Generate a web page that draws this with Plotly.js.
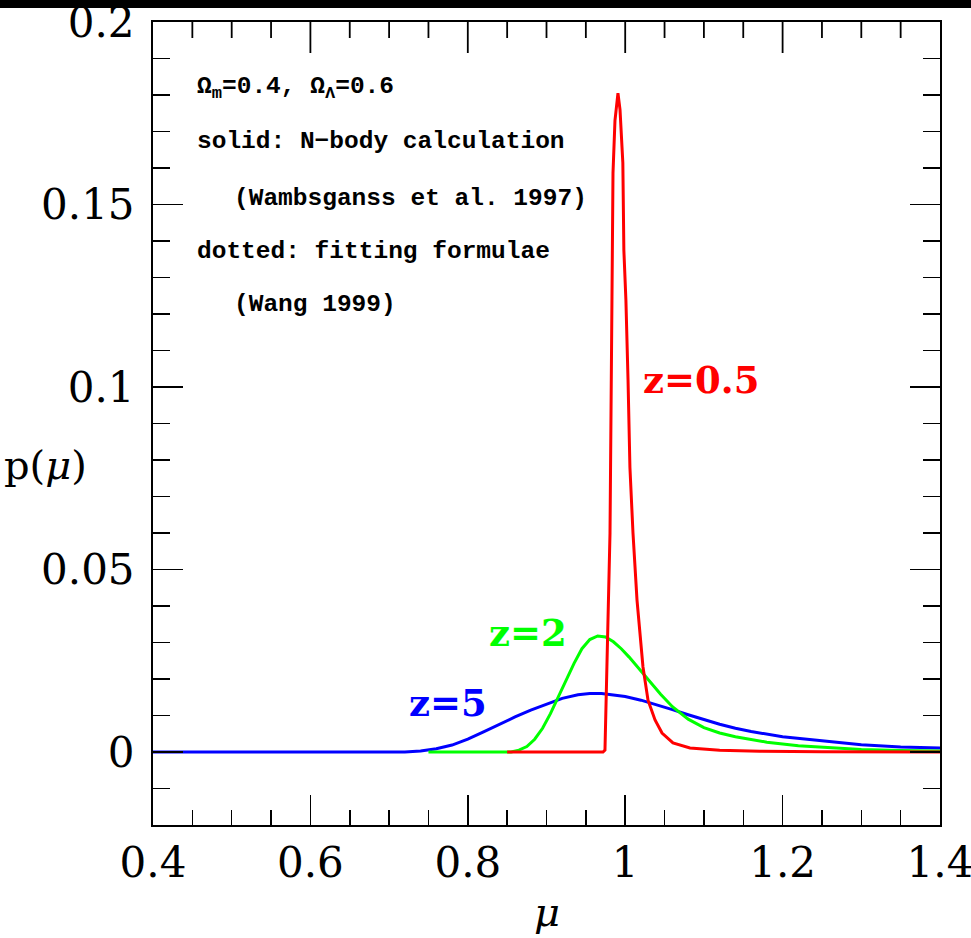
<!DOCTYPE html>
<html>
<head>
<meta charset="utf-8">
<script src="https://cdn.plot.ly/plotly-3.0.1.min.js"></script>
<style>
html,body{margin:0;padding:0;background:#fff;}
#chart{width:971px;height:938px;}
</style>
</head>
<body>
<div id="chart"></div>
<script>
// z = 0.5 (N-body, red)
const muRed = [0.85, 0.9718, 0.9743, 0.9781, 0.9807, 0.9832, 0.9845, 0.987, 0.9908, 0.9934, 0.997, 0.9983, 1.0009, 1.0036, 1.006, 1.0099, 1.015, 1.0226, 1.029, 1.0379, 1.0468, 1.0607, 1.0823, 1.12, 1.171, 1.25, 1.4];
const pRed  = [0, 0, 0.0005, 0.0326, 0.060, 0.1247, 0.1586, 0.173, 0.1805, 0.176, 0.1614, 0.1375, 0.1238, 0.102, 0.078, 0.060, 0.0416, 0.0233, 0.0142, 0.0088, 0.0052, 0.0025, 0.0011, 0.0005, 0.0002, 0.0001, 0];
// z = 2 (green)
const muGreen = [0.75, 0.855, 0.865, 0.875, 0.885, 0.895, 0.905, 0.915, 0.925, 0.935, 0.945, 0.955, 0.965, 0.975, 0.985, 0.995, 1.005, 1.015, 1.025, 1.035, 1.045, 1.06, 1.08, 1.10, 1.12, 1.14, 1.18, 1.22, 1.26, 1.30, 1.35, 1.40];
const pGreen  = [0, 0, 0.0005, 0.0015, 0.0035, 0.0065, 0.0105, 0.015, 0.0198, 0.0243, 0.0283, 0.0308, 0.0318, 0.0315, 0.0302, 0.0283, 0.026, 0.0234, 0.0208, 0.0182, 0.0158, 0.0124, 0.0090, 0.0067, 0.0052, 0.0042, 0.0027, 0.0017, 0.0011, 0.0007, 0.0004, 0.0003];
// z = 5 (blue)
const muBlue = [0.40, 0.72, 0.74, 0.76, 0.78, 0.80, 0.82, 0.84, 0.86, 0.88, 0.90, 0.92, 0.94, 0.955, 0.97, 0.985, 1.00, 1.02, 1.04, 1.06, 1.08, 1.10, 1.12, 1.14, 1.16, 1.20, 1.25, 1.30, 1.35, 1.40];
const pBlue  = [0, 0, 0.0003, 0.0009, 0.0019, 0.0035, 0.0055, 0.0076, 0.0096, 0.0115, 0.0132, 0.0147, 0.0157, 0.0160, 0.0160, 0.0157, 0.0152, 0.0142, 0.0130, 0.0116, 0.0102, 0.0088, 0.0076, 0.0065, 0.0056, 0.0042, 0.0030, 0.0020, 0.0014, 0.0011];

const xTicks = [0.4, 0.6, 0.8, 1, 1.2, 1.4];
const xTickText = ["0.4", "0.6", "0.8", "1", "1.2", "1.4"];
const xMinorTicks = [0.45, 0.5, 0.55, 0.65, 0.7, 0.75, 0.85, 0.9, 0.95, 1.05, 1.1, 1.15, 1.25, 1.3, 1.35];
const yTicks = [0, 0.05, 0.1, 0.15, 0.2];
const yTickText = ["0", "0.05", "0.1", "0.15", "0.2"];

const infoLines = ["Ω<sub>m</sub>=0.4, Ω<sub>Λ</sub>=0.6", "solid: N−body calculation", "(Wambsganss et al. 1997)", "dotted: fitting formulae", "(Wang 1999)"];

const yTop = 0.2, yBottom = -0.02;
const plotH = 938 - 22 - 113;
const perPx = (yTop - yBottom) / plotH;

// top-edge tick marks built from the tick arrays (mirror of the x axis)
const topX = [], topY = [];
xTicks.slice(1, -1).forEach(v => { topX.push(v, v, null); topY.push(yTop, yTop - 31 * perPx, null); });
xMinorTicks.forEach(v => { topX.push(v, v, null); topY.push(yTop, yTop - 16 * perPx, null); });

const lw = 3;
const traces = [
  {x: topX, y: topY, mode: 'lines', line: {color: '#000', width: 1.8}, connectgaps: false, hoverinfo: 'skip', cliponaxis: false},
  {x: muBlue, y: pBlue, mode: 'lines', line: {color: '#0000ff', width: lw}, name: 'z=5'},
  {x: muGreen, y: pGreen, mode: 'lines', line: {color: '#00ff00', width: lw}, name: 'z=2'},
  {x: muRed, y: pRed, mode: 'lines', line: {color: '#ff0000', width: lw}, name: 'z=0.5'}
];

const serif = 'DejaVu Serif';
const infoFont = {family: 'Liberation Mono', size: 24.5, color: '#000', weight: 'bold'};
const infoX = [0.0534, 0.0534, 0.1004, 0.0534, 0.1004];
const infoY = [0.918, 0.8506, 0.7808, 0.7136, 0.6476];
const annotations = infoLines.map((t, i) => ({
  text: '<b>' + t + '</b>', xref: 'paper', yref: 'paper', x: infoX[i], y: infoY[i],
  xanchor: 'left', yanchor: 'middle', showarrow: false, font: infoFont
}));
annotations.push(
  {text: '<b>z=0.5</b>', x: 1.0201, y: 0.1019, xanchor: 'left', yanchor: 'middle', showarrow: false, font: {family: serif, size: 37, color: '#ff0000'}},
  {text: '<b>z=2</b>', x: 0.8244, y: 0.0326, xanchor: 'left', yanchor: 'middle', showarrow: false, font: {family: serif, size: 37, color: '#00ff00'}},
  {text: '<b>z=5</b>', x: 0.7227, y: 0.0134, xanchor: 'left', yanchor: 'middle', showarrow: false, font: {family: serif, size: 37, color: '#0000ff'}},
  {text: 'p(<i>μ</i>)', xref: 'paper', yref: 'paper', x: -0.1925, y: 0.4477, xanchor: 'left', yanchor: 'middle', showarrow: false, font: {family: serif, size: 40, color: '#000'}},
  {text: '<i>μ</i>', xref: 'paper', yref: 'paper', x: 0.5, y: -0.108, xanchor: 'center', yanchor: 'middle', showarrow: false, font: {family: serif, size: 40, color: '#000'}}
);

const layout = {
  width: 971, height: 938,
  margin: {l: 153, r: 31, t: 22, b: 113, pad: 0},
  paper_bgcolor: '#fff', plot_bgcolor: '#fff',
  showlegend: false,
  xaxis: {
    range: [0.4, 1.4], tickvals: xTicks, ticktext: xTickText,
    ticks: 'inside', ticklen: 30, tickwidth: 1.5, tickcolor: '#000',
    minor: {tickvals: xMinorTicks, ticks: 'inside', ticklen: 15, tickwidth: 1.5, tickcolor: '#000'},
    showline: true, linecolor: '#000', linewidth: 2, mirror: true,
    showgrid: false, zeroline: false, ticklabeloverflow: 'allow',
    tickfont: {family: serif, size: 42, color: '#000'}, ticklabelstandoff: 0
  },
  yaxis: {
    range: [yBottom, yTop], tickvals: yTicks, ticktext: yTickText,
    ticks: 'inside', ticklen: 30, tickwidth: 1.5, tickcolor: '#000',
    minor: {dtick: 0.01, tick0: 0, ticks: 'inside', ticklen: 17, tickwidth: 1.5, tickcolor: '#000'},
    showline: true, linecolor: '#000', linewidth: 2, mirror: 'allticks',
    showgrid: false, zeroline: false, ticklabeloverflow: 'allow',
    tickfont: {family: serif, size: 42, color: '#000'}, ticklabelstandoff: 8
  },
  shapes: [
    {type: 'rect', xref: 'paper', yref: 'paper', x0: -0.2, x1: 1.05, y0: 1.0174, y1: 1.03, fillcolor: '#000', line: {width: 0}}
  ],
  annotations: annotations
};

Plotly.newPlot('chart', traces, layout, {displayModeBar: false, staticPlot: true});
</script>
</body>
</html>
